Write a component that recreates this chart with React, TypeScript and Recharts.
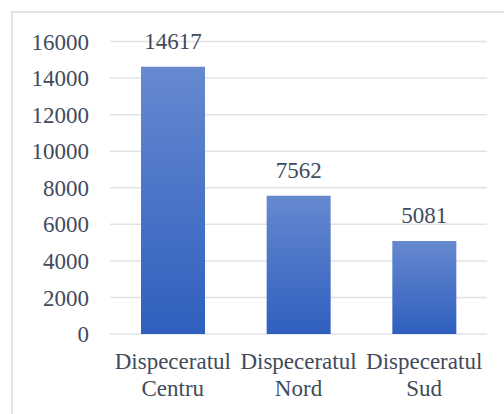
import { BarChart, Bar, XAxis, YAxis, CartesianGrid, LabelList } from 'recharts'

const categories = ['Dispeceratul Centru', 'Dispeceratul Nord', 'Dispeceratul Sud']
const values = [14617, 7562, 5081]
const yTicks = [0, 2000, 4000, 6000, 8000, 10000, 12000, 14000, 16000]

const FONT = "Tinos, 'Times New Roman', Times, 'Liberation Serif', 'DejaVu Serif', 'Noto Serif', serif"
const TEXT = '#414b5b'

const chartData = categories.map((name, i) => ({ name, value: values[i] }))

function CategoryTick({ x, y, payload }: any) {
  const lines = String(payload.value).split(' ')
  return (
    <text x={x} y={y} textAnchor="middle" fill={TEXT} fontSize={23} fontFamily={FONT}>
      {lines.map((line, i) => (
        <tspan key={i} x={x} dy={i === 0 ? 35 : 27}>
          {line}
        </tspan>
      ))}
    </text>
  )
}

export default function App() {
  return (
    <div
      style={{
        position: 'fixed',
        left: 0,
        top: 0,
        width: 504,
        height: 414,
        overflow: 'hidden',
        background: '#fff',
        fontFamily: FONT,
      }}
    >
      <div
        style={{
          position: 'absolute',
          left: 11,
          top: 11,
          width: 520,
          height: 440,
          border: '2px solid #e1e5ea',
        }}
      />
      <div style={{ position: 'absolute', left: 0, top: 0 }}>
        <BarChart
          width={504}
          height={414}
          data={chartData}
          margin={{ top: 41.5, right: 17, bottom: 0, left: 0 }}
          barSize={64}
        >
          <defs>
            <linearGradient id="barFill" x1="0" y1="0" x2="0" y2="1">
              <stop offset="0%" stopColor="#6689d0" />
              <stop offset="100%" stopColor="#2f5fbe" />
            </linearGradient>
          </defs>
          <CartesianGrid vertical={false} stroke="#dfe3e8" strokeWidth={1.5} />
          <XAxis
            dataKey="name"
            axisLine={false}
            tickLine={false}
            tickSize={0}
            tickMargin={0}
            height={80}
            interval={0}
            tick={<CategoryTick />}
          />
          <YAxis
            domain={[0, 16000]}
            ticks={yTicks}
            axisLine={false}
            tickLine={false}
            tickSize={0}
            tickMargin={21}
            width={110}
            interval={0}
            tick={{ fill: TEXT, fontSize: 23, fontFamily: FONT }}
          />
          <Bar dataKey="value" fill="url(#barFill)" isAnimationActive={false}>
            <LabelList
              dataKey="value"
              position="top"
              offset={18}
              fill={TEXT}
              fontSize={23}
              fontFamily={FONT}
            />
          </Bar>
        </BarChart>
      </div>
    </div>
  )
}
